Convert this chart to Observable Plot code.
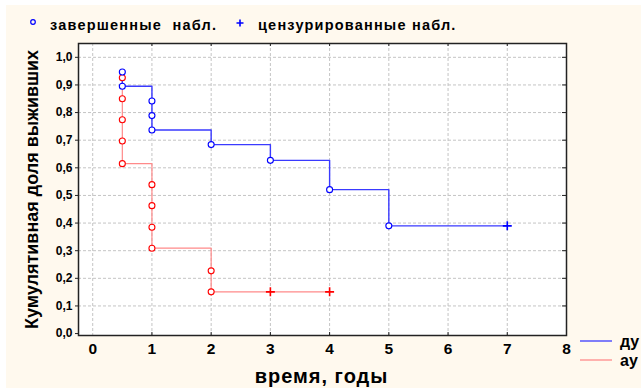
<!DOCTYPE html>
<html><head><meta charset="utf-8">
<script src="https://cdn.jsdelivr.net/npm/d3@7"></script>
<script src="https://cdn.jsdelivr.net/npm/@observablehq/plot@0.6"></script>
<style>body{margin:0;background:#fff;} svg{display:block;font-family:"Liberation Sans",Arial,sans-serif;}</style>
</head><body><div id="chart"></div>
<script>
const xTicks = [0, 1, 2, 3, 4, 5, 6, 7, 8];
const yTicks = [0, 0.1, 0.2, 0.3, 0.4, 0.5, 0.6, 0.7, 0.8, 0.9, 1.0];
const seriesNames = ["ду", "ау"];
const markerLabels = ["завершенные  набл.", "цензурированные набл."];
const xLabel = "время, годы";
const yLabel = "Кумулятивная доля выживших";

// series 1 (blue): complete observations and censored observations
const blueTimes = [0.5, 0.5, 1, 1, 1, 2, 3, 4, 5];
const blueSurv  = [0.947, 0.895, 0.842, 0.789, 0.737, 0.684, 0.627, 0.521, 0.390];
const blueCensTimes = [7];
const blueCensSurv  = [0.390];
// series 2 (red)
const redTimes = [0.5, 0.5, 0.5, 0.5, 0.5, 1, 1, 1, 1, 2, 2];
const redSurv  = [0.926, 0.850, 0.774, 0.697, 0.615, 0.539, 0.463, 0.385, 0.309, 0.227, 0.151];
const redCensTimes = [3, 4];
const redCensSurv  = [0.151, 0.151];

const W = 641, H = 388;
const mL = 78, mR = 75, mT = 43, mB = 53;
const fW = W - mL - mR, fH = H - mT - mB;

function build(name, times, surv, cTimes, cSurv) {
  const ev = times.map((t, i) => ({series: name, t, s: surv[i], type: "event"}));
  const ce = cTimes.map((t, i) => ({series: name, t, s: cSurv[i], type: "cens"}));
  const line = [...ev, ...ce].map((d, i) => ({...d, i})).sort((a, b) => a.t - b.t || a.i - b.i);
  return {ev, ce, line};
}
const blue = build(seriesNames[0], blueTimes, blueSurv, blueCensTimes, blueCensSurv);
const red = build(seriesNames[1], redTimes, redSurv, redCensTimes, redCensSurv);

const BLUE = "#0000ff", RED = "#ff0000";
const fmt = d => d.toFixed(1).replace(".", ",");

const plot = Plot.plot({
  width: W, height: H,
  marginLeft: mL, marginRight: mR, marginTop: mT, marginBottom: mB,
  style: {background: "transparent", fontFamily: "Liberation Sans, Arial, sans-serif", color: "#000"},
  x: {domain: [-0.24, 8], ticks: xTicks},
  y: {domain: [-0.007, 1.05], ticks: yTicks},
  marks: [
    Plot.frame({fill: "white", stroke: null}),
    Plot.gridX(xTicks.filter(d => d < 8), {stroke: "#c4c4c4", strokeOpacity: 1, strokeDasharray: "3,2"}),
    Plot.gridY(yTicks.filter(d => d > 0), {stroke: "#c4c4c4", strokeOpacity: 1, strokeDasharray: "3,2"}),
    Plot.tickX(xTicks.filter(d => d > 0 && d < 8), {x: d => d, stroke: "#222", insetTop: fH - 3}),
    Plot.tickX(xTicks.filter(d => d > 0 && d < 8), {x: d => d, stroke: "#222", insetBottom: fH - 3}),
    Plot.tickY(yTicks.filter(d => d > 0), {y: d => d, stroke: "#222", insetLeft: fW - 4}),
    Plot.line(red.line, {x: "t", y: "s", curve: "step-after", stroke: "#ff8a8a", strokeWidth: 1.2}),
    Plot.line(blue.line, {x: "t", y: "s", curve: "step-after", stroke: "#3a3aff", strokeWidth: 1.4}),
    Plot.dot(red.ev, {x: "t", y: "s", r: 3, stroke: RED, fill: "white", strokeWidth: 1.1}),
    Plot.dot(blue.ev, {x: "t", y: "s", r: 3, stroke: BLUE, fill: "white", strokeWidth: 1.1}),
    Plot.dot(red.ce, {x: "t", y: "s", r: 3, symbol: "plus", stroke: RED, strokeWidth: 1.6}),
    Plot.dot(blue.ce, {x: "t", y: "s", r: 3, symbol: "plus", stroke: BLUE, strokeWidth: 1.6}),
    Plot.frame({stroke: "#222", strokeWidth: 1.5}),
    Plot.axisY(yTicks, {tickSize: 3, tickPadding: 3, tickFormat: fmt, fontSize: 12, fontWeight: "bold", label: null, stroke: "#222"}),
    Plot.axisX(xTicks, {tickSize: 0, tickPadding: 7, fontSize: 15.5, fontWeight: "bold", label: null}),
    Plot.text([yLabel], {frameAnchor: "left", dx: -46, rotate: -90, text: d => d, fontSize: 18, fontWeight: "bold", textAnchor: "middle"}),
    Plot.text([xLabel], {frameAnchor: "bottom", dx: -1, dy: 41, text: d => d, fontSize: 20, fontWeight: "bold", textAnchor: "middle", lineAnchor: "middle"})
  ]
});

const svg = d3.select(plot);
svg.insert("rect", ":first-child").attr("x", 6).attr("y", 5).attr("width", W - 6).attr("height", H - 5).attr("fill", "#fff9ee");
svg.insert("rect", ":first-child").attr("width", W).attr("height", H).attr("fill", "#ffffff");
// x label letter spacing like the reference
svg.selectAll("text").filter(function() { return this.textContent === xLabel; }).attr("letter-spacing", 1);

// top legend: marker types
const lg = svg.append("g").attr("font-weight", "bold").attr("font-size", 14.5).attr("text-anchor", "start").attr("letter-spacing", 1.2).style("white-space", "pre");
lg.append("circle").attr("cx", 33).attr("cy", 22).attr("r", 2.3).attr("fill", "none").attr("stroke", BLUE).attr("stroke-width", 1.2);
lg.append("text").attr("x", 50).attr("y", 30).text(markerLabels[0]);
lg.append("path").attr("d", "M236.5,23H243.5M240,19.5V26.5").attr("stroke", BLUE).attr("stroke-width", 1.6);
lg.append("text").attr("x", 258).attr("y", 30).text(markerLabels[1]);

// right legend: series
const rl = svg.append("g").attr("font-weight", "bold").attr("font-size", 16).attr("text-anchor", "start");
[[341, 347], [360, 366]].forEach(([ly, ty], i) => {
  rl.append("line").attr("x1", 580).attr("x2", 612).attr("y1", ly).attr("y2", ly).attr("stroke", i ? "#ff8a8a" : "#3a3aff").attr("stroke-width", 1.3);
  rl.append("text").attr("x", 620).attr("y", ty).text(seriesNames[i]);
});

document.getElementById("chart").appendChild(plot);
</script></body></html>
